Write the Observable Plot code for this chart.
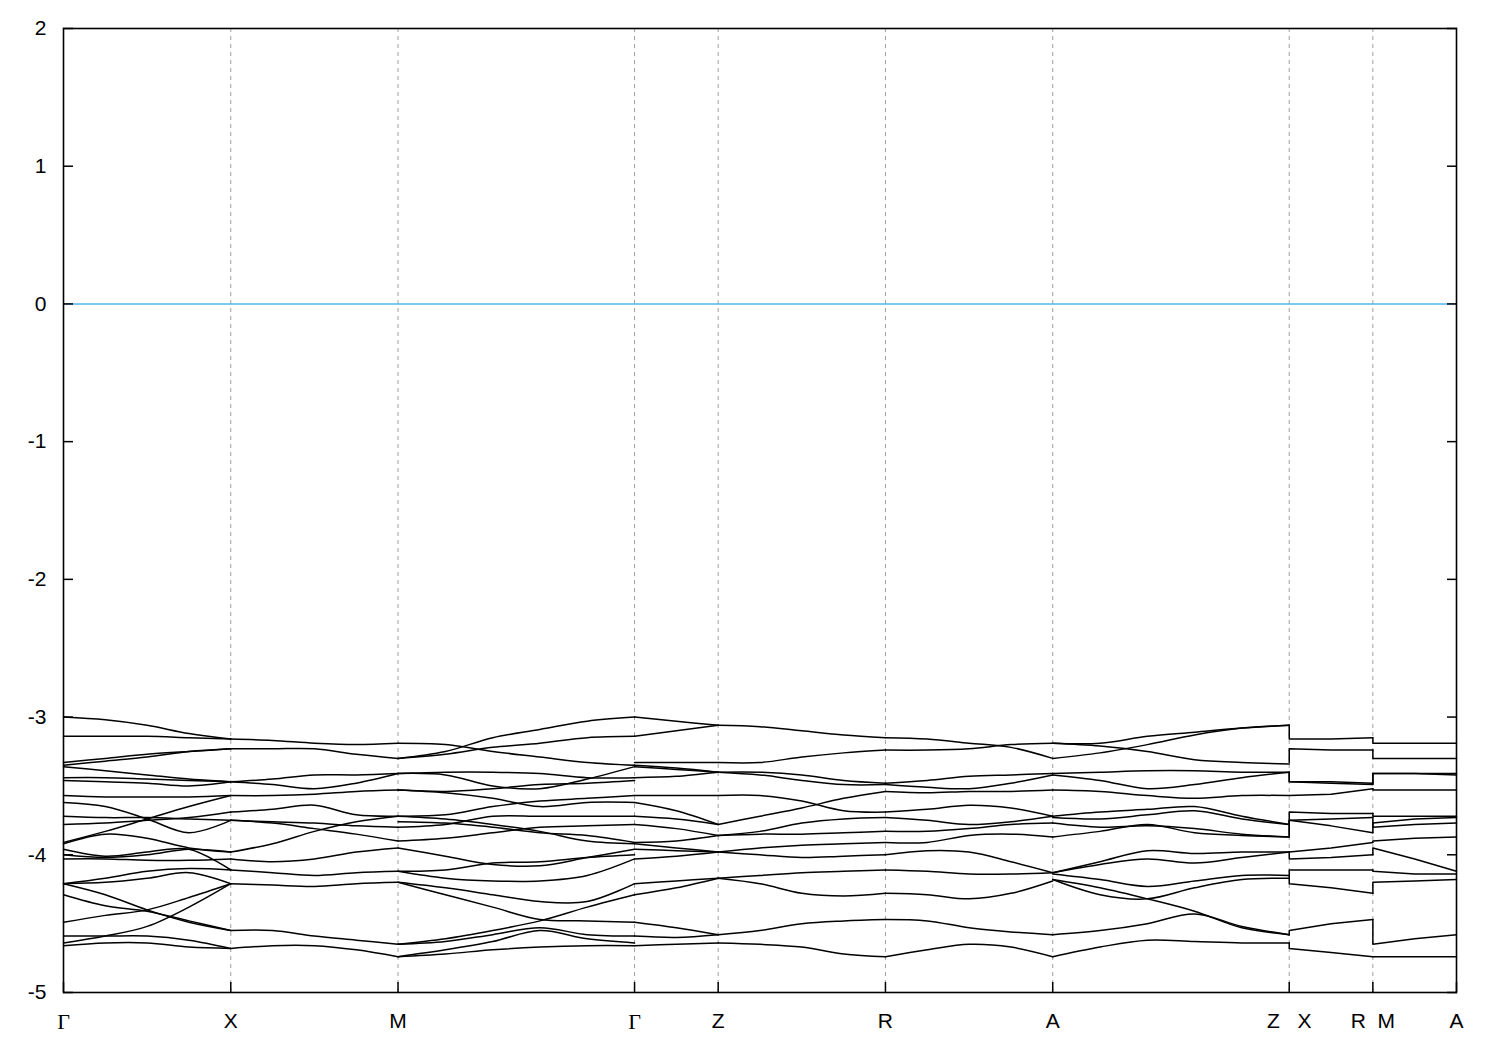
<!DOCTYPE html>
<html>
<head>
<meta charset="utf-8">
<script src="https://cdn.jsdelivr.net/npm/d3@7"></script>
<script src="https://cdn.jsdelivr.net/npm/@observablehq/plot@0.6"></script>
<style>
  html, body { margin: 0; padding: 0; background: #fff; }
  #chart svg { display: block; }
</style>
</head>
<body>
<div id="chart"></div>
<script>
// High-symmetry path (k in units of a*/2)
const kTicks  = [0, 1, 2, 3.414, 3.914, 4.914, 5.914, 7.328, 7.828, 8.328];
const kLabels = ["Γ", "X", "M", "Γ", "Z", "R", "A", "Z\u00a0\u00a0\u00a0X", "R\u00a0\u00a0M", "A"];
const gridK   = [1, 2, 3.414, 3.914, 4.914, 5.914, 7.328, 7.828];
const yTicks  = [-5, -4, -3, -2, -1, 0, 1, 2];
const fermiLevel = [0];

// k nodes of each path segment
const kGX = [0, 0.25, 0.5, 0.75, 1];
const kXM = [1, 1.25, 1.5, 1.75, 2];
const kMG = [2, 2.283, 2.566, 2.848, 3.131, 3.414];
const kGZ = [3.414, 3.664, 3.914];
const kZR = [3.914, 4.164, 4.414, 4.664, 4.914];
const kRA = [4.914, 5.164, 5.414, 5.664, 5.914];
const kAZ = [5.914, 6.197, 6.480, 6.762, 7.045, 7.328];
const kXR = [7.328, 7.328, 7.578, 7.828];   // first value: end at Z, then jump to X
const kMA = [7.828, 7.828, 8.078, 8.328];   // first value: end at R, then jump to M

// Band energies (eV) read at the k nodes of each segment
const bandsGX = [
  [-3.00,-3.02,-3.06,-3.12,-3.16],
  [-3.14,-3.14,-3.14,-3.15,-3.16],
  [-3.33,-3.30,-3.27,-3.25,-3.23],
  [-3.35,-3.32,-3.29,-3.25,-3.23],
  [-3.36,-3.39,-3.42,-3.45,-3.47],
  [-3.44,-3.44,-3.45,-3.46,-3.47],
  [-3.46,-3.47,-3.48,-3.50,-3.47],
  [-3.57,-3.58,-3.58,-3.58,-3.57],
  [-3.62,-3.65,-3.74,-3.84,-3.75],
  [-3.72,-3.73,-3.73,-3.74,-3.75],
  [-3.78,-3.77,-3.75,-3.73,-3.69],
  [-3.91,-3.83,-3.74,-3.65,-3.57],
  [-3.92,-3.85,-3.88,-3.95,-3.98],
  [-3.96,-4.01,-3.98,-3.96,-4.11],
  [-4.00,-4.02,-4.00,-3.96,-3.98],
  [-4.03,-4.03,-4.04,-4.04,-4.03],
  [-4.21,-4.17,-4.12,-4.10,-4.11],
  [-4.21,-4.20,-4.17,-4.13,-4.21],
  [-4.21,-4.29,-4.40,-4.49,-4.55],
  [-4.29,-4.37,-4.41,-4.48,-4.55],
  [-4.49,-4.44,-4.40,-4.31,-4.21],
  [-4.64,-4.59,-4.52,-4.38,-4.21],
  [-4.59,-4.59,-4.59,-4.62,-4.68],
  [-4.66,-4.64,-4.64,-4.67,-4.68]
];
const bandsXM = [
  [-3.16,-3.17,-3.19,-3.20,-3.19],
  [-3.23,-3.23,-3.23,-3.27,-3.30],
  [-3.47,-3.45,-3.42,-3.42,-3.41],
  [-3.47,-3.49,-3.52,-3.48,-3.41],
  [-3.57,-3.57,-3.56,-3.54,-3.53],
  [-3.69,-3.67,-3.64,-3.71,-3.72],
  [-3.75,-3.76,-3.77,-3.79,-3.80],
  [-3.75,-3.77,-3.81,-3.85,-3.90],
  [-3.98,-3.92,-3.83,-3.76,-3.72],
  [-4.03,-4.05,-4.03,-3.98,-3.95],
  [-4.11,-4.13,-4.15,-4.13,-4.12],
  [-4.21,-4.22,-4.23,-4.21,-4.20],
  [-4.55,-4.55,-4.59,-4.62,-4.65],
  [-4.68,-4.66,-4.66,-4.69,-4.74]
];
const bandsMG = [
  [-3.19,-3.20,-3.25,-3.29,-3.33,-3.35],
  [-3.30,-3.25,-3.15,-3.09,-3.03,-3.00],
  [-3.30,-3.27,-3.22,-3.19,-3.15,-3.14],
  [-3.41,-3.40,-3.40,-3.41,-3.44,-3.44],
  [-3.41,-3.42,-3.50,-3.52,-3.45,-3.36],
  [-3.53,-3.55,-3.59,-3.65,-3.62,-3.62],
  [-3.53,-3.54,-3.52,-3.49,-3.48,-3.46],
  [-3.72,-3.71,-3.65,-3.61,-3.59,-3.57],
  [-3.72,-3.74,-3.78,-3.83,-3.90,-3.92],
  [-3.76,-3.77,-3.80,-3.84,-3.86,-3.91],
  [-3.80,-3.78,-3.72,-3.72,-3.72,-3.72],
  [-3.90,-3.88,-3.84,-3.80,-3.79,-3.78],
  [-3.95,-4.01,-4.07,-4.08,-4.02,-3.96],
  [-4.12,-4.11,-4.06,-4.05,-4.02,-4.00],
  [-4.12,-4.17,-4.19,-4.19,-4.15,-4.03],
  [-4.20,-4.24,-4.29,-4.34,-4.34,-4.21],
  [-4.20,-4.29,-4.38,-4.47,-4.48,-4.49],
  [-4.65,-4.61,-4.55,-4.48,-4.38,-4.29],
  [-4.65,-4.63,-4.58,-4.53,-4.58,-4.59],
  [-4.74,-4.69,-4.63,-4.55,-4.61,-4.64],
  [-4.74,-4.72,-4.69,-4.67,-4.66,-4.66]
];
const bandsGZ = [
  [-3.00,-3.03,-3.06],
  [-3.14,-3.10,-3.06],
  [-3.33,-3.33,-3.33],
  [-3.35,-3.37,-3.40],
  [-3.36,-3.38,-3.40],
  [-3.44,-3.43,-3.40],
  [-3.57,-3.57,-3.57],
  [-3.62,-3.68,-3.78],
  [-3.72,-3.74,-3.78],
  [-3.78,-3.81,-3.86],
  [-3.91,-3.90,-3.86],
  [-3.92,-3.95,-3.98],
  [-3.96,-3.97,-3.98],
  [-4.03,-4.01,-3.98],
  [-4.21,-4.19,-4.17],
  [-4.29,-4.24,-4.17],
  [-4.49,-4.53,-4.58],
  [-4.59,-4.60,-4.58],
  [-4.66,-4.65,-4.64]
];
const bandsZR = [
  [-3.06,-3.07,-3.10,-3.13,-3.15],
  [-3.33,-3.33,-3.29,-3.26,-3.24],
  [-3.40,-3.40,-3.42,-3.46,-3.48],
  [-3.40,-3.42,-3.46,-3.49,-3.49],
  [-3.57,-3.57,-3.61,-3.68,-3.69],
  [-3.78,-3.72,-3.66,-3.59,-3.54],
  [-3.86,-3.85,-3.85,-3.84,-3.83],
  [-3.86,-3.83,-3.77,-3.74,-3.73],
  [-3.98,-3.95,-3.93,-3.92,-3.91],
  [-3.98,-4.00,-4.02,-4.01,-4.00],
  [-4.17,-4.15,-4.13,-4.12,-4.11],
  [-4.17,-4.21,-4.28,-4.30,-4.28],
  [-4.58,-4.55,-4.50,-4.48,-4.47],
  [-4.64,-4.65,-4.67,-4.72,-4.74]
];
const bandsRA = [
  [-3.15,-3.16,-3.19,-3.22,-3.30],
  [-3.24,-3.24,-3.23,-3.20,-3.19],
  [-3.48,-3.46,-3.43,-3.42,-3.41],
  [-3.49,-3.51,-3.52,-3.48,-3.42],
  [-3.54,-3.55,-3.54,-3.54,-3.53],
  [-3.69,-3.67,-3.64,-3.66,-3.72],
  [-3.73,-3.75,-3.78,-3.76,-3.72],
  [-3.83,-3.83,-3.81,-3.78,-3.77],
  [-3.91,-3.91,-3.86,-3.85,-3.87],
  [-4.00,-3.97,-3.98,-4.05,-4.13],
  [-4.11,-4.12,-4.14,-4.14,-4.13],
  [-4.28,-4.29,-4.32,-4.28,-4.19],
  [-4.47,-4.48,-4.53,-4.56,-4.58],
  [-4.74,-4.69,-4.65,-4.67,-4.74]
];
const bandsAZ = [
  [-3.19,-3.21,-3.25,-3.31,-3.33,-3.34],
  [-3.19,-3.19,-3.14,-3.11,-3.08,-3.06],
  [-3.30,-3.26,-3.20,-3.13,-3.08,-3.06],
  [-3.41,-3.40,-3.39,-3.39,-3.40,-3.40],
  [-3.42,-3.46,-3.52,-3.49,-3.44,-3.40],
  [-3.53,-3.54,-3.57,-3.59,-3.57,-3.57],
  [-3.72,-3.69,-3.67,-3.65,-3.72,-3.78],
  [-3.73,-3.74,-3.71,-3.68,-3.74,-3.78],
  [-3.77,-3.80,-3.79,-3.81,-3.85,-3.87],
  [-3.87,-3.83,-3.78,-3.84,-3.86,-3.87],
  [-4.13,-4.05,-3.97,-3.99,-3.98,-3.98],
  [-4.13,-4.07,-4.03,-4.06,-4.02,-3.98],
  [-4.14,-4.18,-4.23,-4.19,-4.15,-4.15],
  [-4.18,-4.24,-4.32,-4.41,-4.53,-4.58],
  [-4.18,-4.29,-4.32,-4.24,-4.18,-4.17],
  [-4.58,-4.55,-4.50,-4.43,-4.52,-4.58],
  [-4.74,-4.67,-4.62,-4.63,-4.64,-4.64]
];
const bandsXR = [
  [-3.06,-3.16,-3.16,-3.15],
  [-3.33,-3.23,-3.24,-3.24],
  [-3.40,-3.47,-3.47,-3.48],
  [-3.40,-3.47,-3.48,-3.49],
  [-3.57,-3.57,-3.56,-3.52],
  [-3.78,-3.69,-3.70,-3.70],
  [-3.86,-3.75,-3.79,-3.84],
  [-3.86,-3.75,-3.74,-3.73],
  [-3.98,-3.98,-3.95,-3.91],
  [-3.98,-4.03,-4.02,-4.00],
  [-4.17,-4.11,-4.11,-4.11],
  [-4.17,-4.21,-4.24,-4.28],
  [-4.58,-4.55,-4.50,-4.47],
  [-4.64,-4.68,-4.71,-4.74]
];
const bandsMA = [
  [-3.15,-3.19,-3.19,-3.19],
  [-3.24,-3.30,-3.30,-3.30],
  [-3.48,-3.41,-3.41,-3.42],
  [-3.49,-3.41,-3.41,-3.41],
  [-3.52,-3.53,-3.53,-3.53],
  [-3.70,-3.72,-3.72,-3.72],
  [-3.84,-3.77,-3.74,-3.73],
  [-3.73,-3.80,-3.78,-3.77],
  [-3.91,-3.90,-3.88,-3.87],
  [-4.00,-3.95,-4.03,-4.12],
  [-4.11,-4.12,-4.14,-4.14],
  [-4.28,-4.20,-4.19,-4.18],
  [-4.47,-4.65,-4.61,-4.58],
  [-4.74,-4.74,-4.74,-4.74]
];

const smoothSegments = [[kGX, bandsGX], [kXM, bandsXM], [kMG, bandsMG], [kGZ, bandsGZ],
                        [kZR, bandsZR], [kRA, bandsRA], [kAZ, bandsAZ]];
const straightSegments = [[kXR, bandsXR], [kMA, bandsMA]];

const toRows = (segs, tag) => segs.flatMap(([ks, bands], s) =>
  bands.flatMap((b, i) => b.map((E, j) => ({k: ks[j], E, id: `${tag}${s}-${i}`}))));
const smoothRows = toRows(smoothSegments, "s");
const straightRows = toRows(straightSegments, "t");

const chart = Plot.plot({
  width: 1500,
  height: 1050,
  marginTop: 28,
  marginRight: 44,
  marginBottom: 58,
  marginLeft: 63,
  style: {background: "white", color: "black", fontFamily: "'Liberation Sans', Arial, Helvetica, sans-serif", fontSize: "21px"},
  x: {domain: [0, 8.328]},
  y: {domain: [-5, 2]},
  marks: [
    Plot.ruleX(gridK, {stroke: "#a0a0a0", strokeWidth: 1, strokeDasharray: "4,4"}),
    Plot.ruleY(fermiLevel, {stroke: "#56b4e9", strokeWidth: 1.6}),
    Plot.line(smoothRows, {x: "k", y: "E", z: "id", curve: "catmull-rom", stroke: "black", strokeWidth: 1.5}),
    Plot.line(straightRows, {x: "k", y: "E", z: "id", curve: "linear", stroke: "black", strokeWidth: 1.5}),
    Plot.axisX(kTicks, {anchor: "bottom", tickSize: -10, tickPadding: 31, label: null,
      tickFormat: d => kLabels[kTicks.indexOf(d)], fontSize: 21, strokeWidth: 1.5}),
    Plot.axisY(yTicks, {anchor: "left", tickSize: -10, tickPadding: 27, label: null,
      tickFormat: d => String(d), fontSize: 21, strokeWidth: 1.5}),
    Plot.axisY(yTicks, {anchor: "right", tickSize: -10, label: null, tickFormat: () => "", strokeWidth: 1.5}),
    Plot.frame({stroke: "black", strokeWidth: 1.6})
  ]
});

// Γ labels in a serif face, as in the original
d3.select(chart).selectAll("text").filter(function() { return this.textContent === "Γ"; })
  .attr("font-family", "'Liberation Serif', 'DejaVu Serif', serif").attr("font-size", 22);

document.getElementById("chart").append(chart);
</script>
</body>
</html>
